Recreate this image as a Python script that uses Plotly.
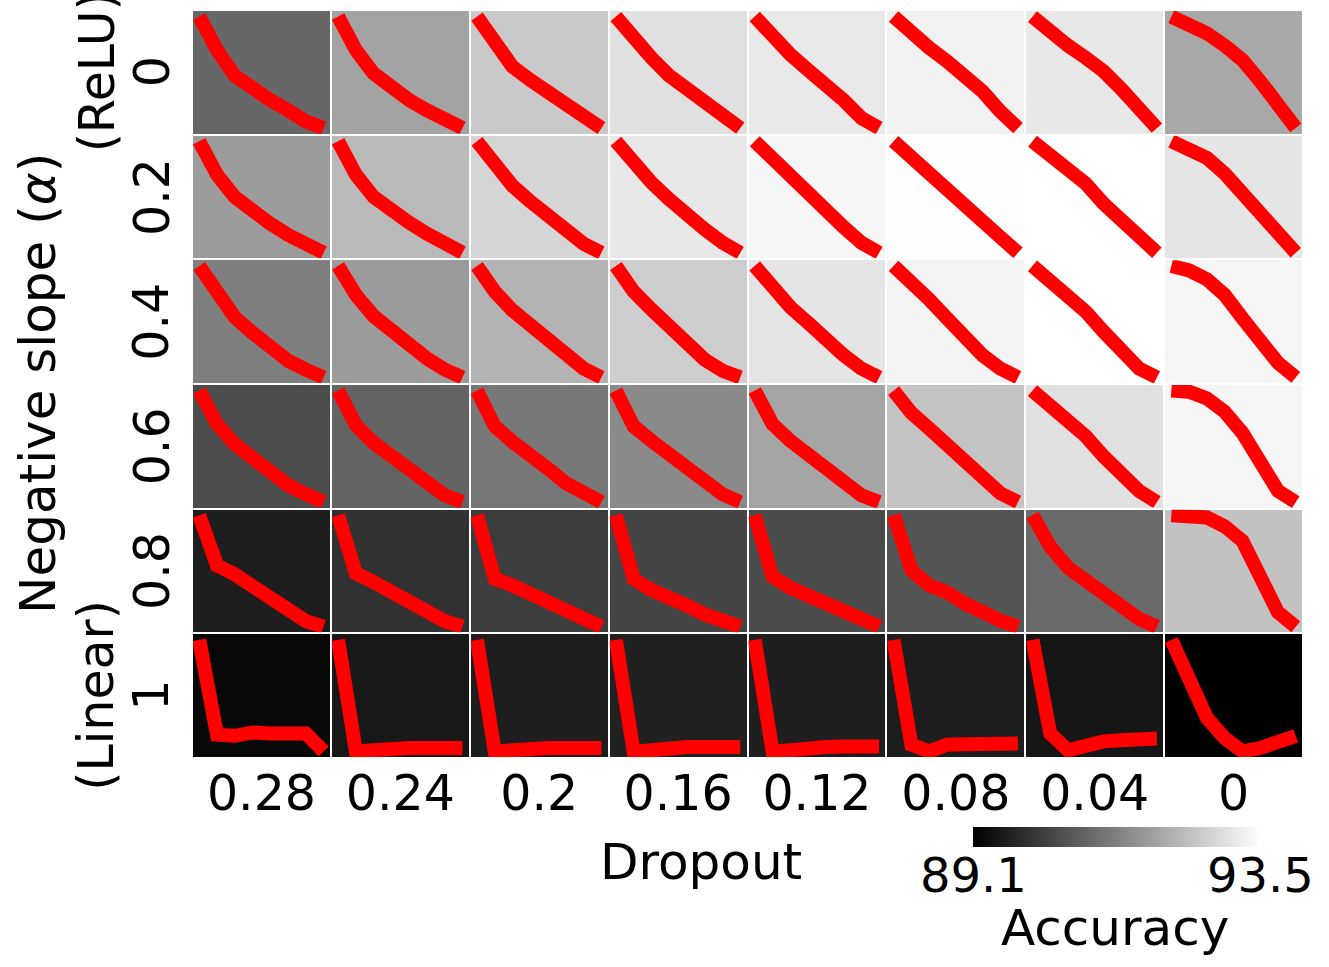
import plotly.graph_objects as go

# ---------------- data ----------------
dropout_labels = ["0.28", "0.24", "0.2", "0.16", "0.12", "0.08", "0.04", "0"]
slope_labels = ["0", "0.2", "0.4", "0.6", "0.8", "1"]
slope_notes = ["(ReLU)", "", "", "", "", "(Linear)"]

# accuracy per (negative slope row, dropout column)
accuracy = [
    [90.88, 91.91, 92.57, 92.97, 93.12, 93.26, 93.10, 92.00],
    [91.79, 92.29, 92.78, 93.10, 93.34, 93.48, 93.50, 93.05],
    [91.29, 91.77, 92.19, 92.64, 93.05, 93.29, 93.50, 93.33],
    [90.41, 90.81, 91.15, 91.48, 91.95, 92.46, 92.97, 93.33],
    [89.62, 89.96, 90.15, 90.29, 90.39, 90.55, 90.93, 92.45],
    [89.24, 89.51, 89.62, 89.67, 89.63, 89.62, 89.48, 89.10],
]
acc_min, acc_max = 89.1, 93.5
colorbar_labels = ["89.1", "93.5"]

# normalised curves drawn inside each cell (8 points each)
curves_alpha_00 = [
    [1, 0.70, 0.47, 0.35, 0.25, 0.16, 0.06, 0],
    [1, 0.70, 0.49, 0.36, 0.25, 0.16, 0.07, 0],
    [1, 0.76, 0.55, 0.43, 0.32, 0.20, 0.09, 0],
    [1, 0.80, 0.63, 0.47, 0.35, 0.22, 0.09, 0],
    [1, 0.82, 0.66, 0.52, 0.40, 0.25, 0.09, 0],
    [1, 0.84, 0.72, 0.60, 0.47, 0.33, 0.15, 0],
    [1, 0.85, 0.74, 0.63, 0.51, 0.35, 0.16, 0],
    [1, 0.93, 0.85, 0.74, 0.61, 0.42, 0.22, 0],
]
curves_alpha_02 = [
    [1, 0.70, 0.50, 0.37, 0.26, 0.16, 0.07, 0],
    [1, 0.70, 0.50, 0.37, 0.27, 0.17, 0.07, 0],
    [1, 0.78, 0.60, 0.46, 0.32, 0.19, 0.08, 0],
    [1, 0.80, 0.63, 0.48, 0.33, 0.21, 0.09, 0],
    [1, 0.84, 0.68, 0.53, 0.38, 0.23, 0.09, 0],
    [1, 0.85, 0.71, 0.57, 0.43, 0.29, 0.14, 0],
    [1, 0.88, 0.76, 0.62, 0.44, 0.29, 0.14, 0],
    [1, 0.94, 0.85, 0.71, 0.53, 0.34, 0.15, 0],
]
curves_alpha_04 = [
    [1, 0.74, 0.54, 0.40, 0.26, 0.15, 0.07, 0],
    [1, 0.74, 0.55, 0.41, 0.28, 0.17, 0.07, 0],
    [1, 0.77, 0.60, 0.46, 0.32, 0.19, 0.08, 0],
    [1, 0.77, 0.61, 0.45, 0.29, 0.16, 0.06, 0],
    [1, 0.81, 0.63, 0.49, 0.33, 0.20, 0.08, 0],
    [1, 0.86, 0.70, 0.53, 0.36, 0.20, 0.08, 0],
    [1, 0.87, 0.74, 0.59, 0.41, 0.23, 0.08, 0],
    [1, 0.96, 0.88, 0.74, 0.53, 0.31, 0.13, 0],
]
curves_alpha_06 = [
    [1, 0.70, 0.52, 0.39, 0.26, 0.15, 0.07, 0],
    [1, 0.69, 0.53, 0.41, 0.28, 0.17, 0.06, 0],
    [1, 0.68, 0.54, 0.43, 0.30, 0.17, 0.07, 0],
    [1, 0.68, 0.55, 0.43, 0.31, 0.17, 0.07, 0],
    [1, 0.70, 0.55, 0.43, 0.30, 0.16, 0.06, 0],
    [1, 0.80, 0.66, 0.52, 0.37, 0.20, 0.08, 0],
    [1, 0.87, 0.73, 0.59, 0.41, 0.24, 0.10, 0],
    [1, 0.99, 0.93, 0.81, 0.62, 0.36, 0.10, 0],
]
curves_alpha_08 = [
    [1, 0.55, 0.47, 0.36, 0.25, 0.14, 0.05, 0],
    [1, 0.48, 0.40, 0.31, 0.21, 0.12, 0.05, 0],
    [1, 0.43, 0.37, 0.29, 0.22, 0.14, 0.05, 0],
    [1, 0.43, 0.33, 0.27, 0.19, 0.11, 0.055, 0],
    [1, 0.45, 0.35, 0.28, 0.20, 0.12, 0.05, 0],
    [1, 0.51, 0.37, 0.31, 0.21, 0.12, 0.055, 0],
    [1, 0.72, 0.53, 0.41, 0.29, 0.17, 0.07, 0],
    [1, 0.99, 0.98, 0.90, 0.77, 0.45, 0.13, 0],
]
curves_alpha_10 = [
    [1, 0.15, 0.14, 0.17, 0.16, 0.16, 0.16, 0],
    [1, 0, 0.01, 0.03, 0.03, 0.03, 0.03, 0.03],
    [1, 0, 0.01, 0.03, 0.03, 0.03, 0.03, 0.03],
    [1, 0, 0.01, 0.035, 0.04, 0.04, 0.04, 0.04],
    [1, 0, 0.01, 0.035, 0.04, 0.045, 0.045, 0.045],
    [1, 0.06, 0, 0.06, 0.065, 0.07, 0.07, 0.07],
    [1, 0.16, 0.01, 0.066, 0.09, 0.10, 0.11, 0.115],
    [1, 0.63, 0.30, 0.12, 0, 0.03, 0.08, 0.14],
]
curves = [curves_alpha_00, curves_alpha_02, curves_alpha_04,
          curves_alpha_06, curves_alpha_08, curves_alpha_10]
curve_steps = list(range(8))

# ---------------- figure ----------------
W, H = 1329, 967
ML, MR, MT, MB = 192, 26, 10, 209
PW, PH = W - ML - MR, H - MT - MB
FONT = "DejaVu Sans"
nrow, ncol = len(slope_labels), len(dropout_labels)


def px_x(px):
    return (px - ML) / PW


def px_y(py):
    return -(py - (MT + PH)) / PH


cb_left, cb_len = 973, 287

fig = go.Figure()
fig.add_trace(go.Heatmap(
    z=accuracy, x=list(range(ncol)), y=list(range(nrow)),
    zmin=acc_min, zmax=acc_max,
    colorscale=[[0, "#000000"], [1, "#ffffff"]],
    xgap=2, ygap=2, hoverinfo="skip",
    colorbar=dict(
        orientation="h", x=px_x(cb_left), xanchor="left",
        y=px_y(827), yanchor="top",
        len=cb_len, lenmode="pixels", thickness=20,
        xpad=0, ypad=0, outlinewidth=0,
        tickvals=[acc_min, acc_max], ticks="", showticklabels=False,
    ),
))

layout = dict(
    width=W, height=H,
    margin=dict(l=ML, r=MR, t=MT, b=MB, pad=0),
    paper_bgcolor="white", plot_bgcolor="rgba(0,0,0,0)",
    font=dict(family=FONT, color="black"),
    showlegend=False,
    xaxis=dict(domain=[0, 1], range=[-0.5, ncol - 0.5], tickmode="array",
               tickvals=list(range(ncol)), ticktext=dropout_labels,
               ticks="", showgrid=False, zeroline=False, showline=False,
               tickfont=dict(size=49), ticklabelstandoff=2),
    yaxis=dict(domain=[0, 1], range=[nrow - 0.5, -0.5], showticklabels=False,
               ticks="", showgrid=False, zeroline=False, showline=False),
)

dx, dy = 1.0 / PW, 1.0 / PH
idx = 2
for i in range(nrow):
    for j in range(ncol):
        xa, ya = f"xaxis{idx}", f"yaxis{idx}"
        layout[xa] = dict(domain=[j / ncol + dx, (j + 1) / ncol - dx],
                          range=[-0.35, 7.35], visible=False, anchor=f"y{idx}",
                          fixedrange=True)
        layout[ya] = dict(domain=[1 - (i + 1) / nrow + dy, 1 - i / nrow - dy],
                          range=[-0.05, 1.05], visible=False, anchor=f"x{idx}",
                          fixedrange=True)
        fig.add_trace(go.Scatter(
            x=curve_steps, y=curves[i][j], mode="lines",
            line=dict(color="#ff0000", width=14),
            xaxis=f"x{idx}", yaxis=f"y{idx}", hoverinfo="skip"))
        idx += 1

annotations = []
for i in range(nrow):
    yc = 1 - (i + 0.5) / nrow
    annotations.append(dict(text=slope_labels[i], x=0, y=yc, xref="paper", yref="paper",
                            xanchor="center", yanchor="middle", xshift=-40,
                            textangle=-90, showarrow=False, font=dict(size=49)))
    if slope_notes[i]:
        annotations.append(dict(text=slope_notes[i], x=0, y=yc, xref="paper", yref="paper",
                                xanchor="center", yanchor="middle", xshift=-95,
                                textangle=-90, showarrow=False, font=dict(size=49)))
annotations.append(dict(text="Negative slope (<i>α</i>)", x=0, y=0.5, xref="paper",
                        yref="paper", xanchor="center", yanchor="middle", xshift=-154,
                        textangle=-90, showarrow=False, font=dict(size=50)))
annotations.append(dict(text="Dropout", x=px_x(701), y=px_y(862),
                        xref="paper", yref="paper", xanchor="center", yanchor="middle",
                        showarrow=False, font=dict(size=50)))
# colorbar end labels
for k, lab in enumerate(colorbar_labels):
    annotations.append(dict(text=lab, x=px_x(cb_left + k * cb_len), y=px_y(875),
                            xref="paper", yref="paper", xanchor="center", yanchor="middle",
                            showarrow=False, font=dict(size=48)))
annotations.append(dict(text="Accuracy", x=px_x(1115), y=px_y(928),
                        xref="paper", yref="paper", xanchor="center", yanchor="middle",
                        showarrow=False, font=dict(size=50)))
layout["annotations"] = annotations

fig.update_layout(**layout)
fig.write_html("out.html", config={"displayModeBar": False},
               post_script="document.body.style.margin='0';")
